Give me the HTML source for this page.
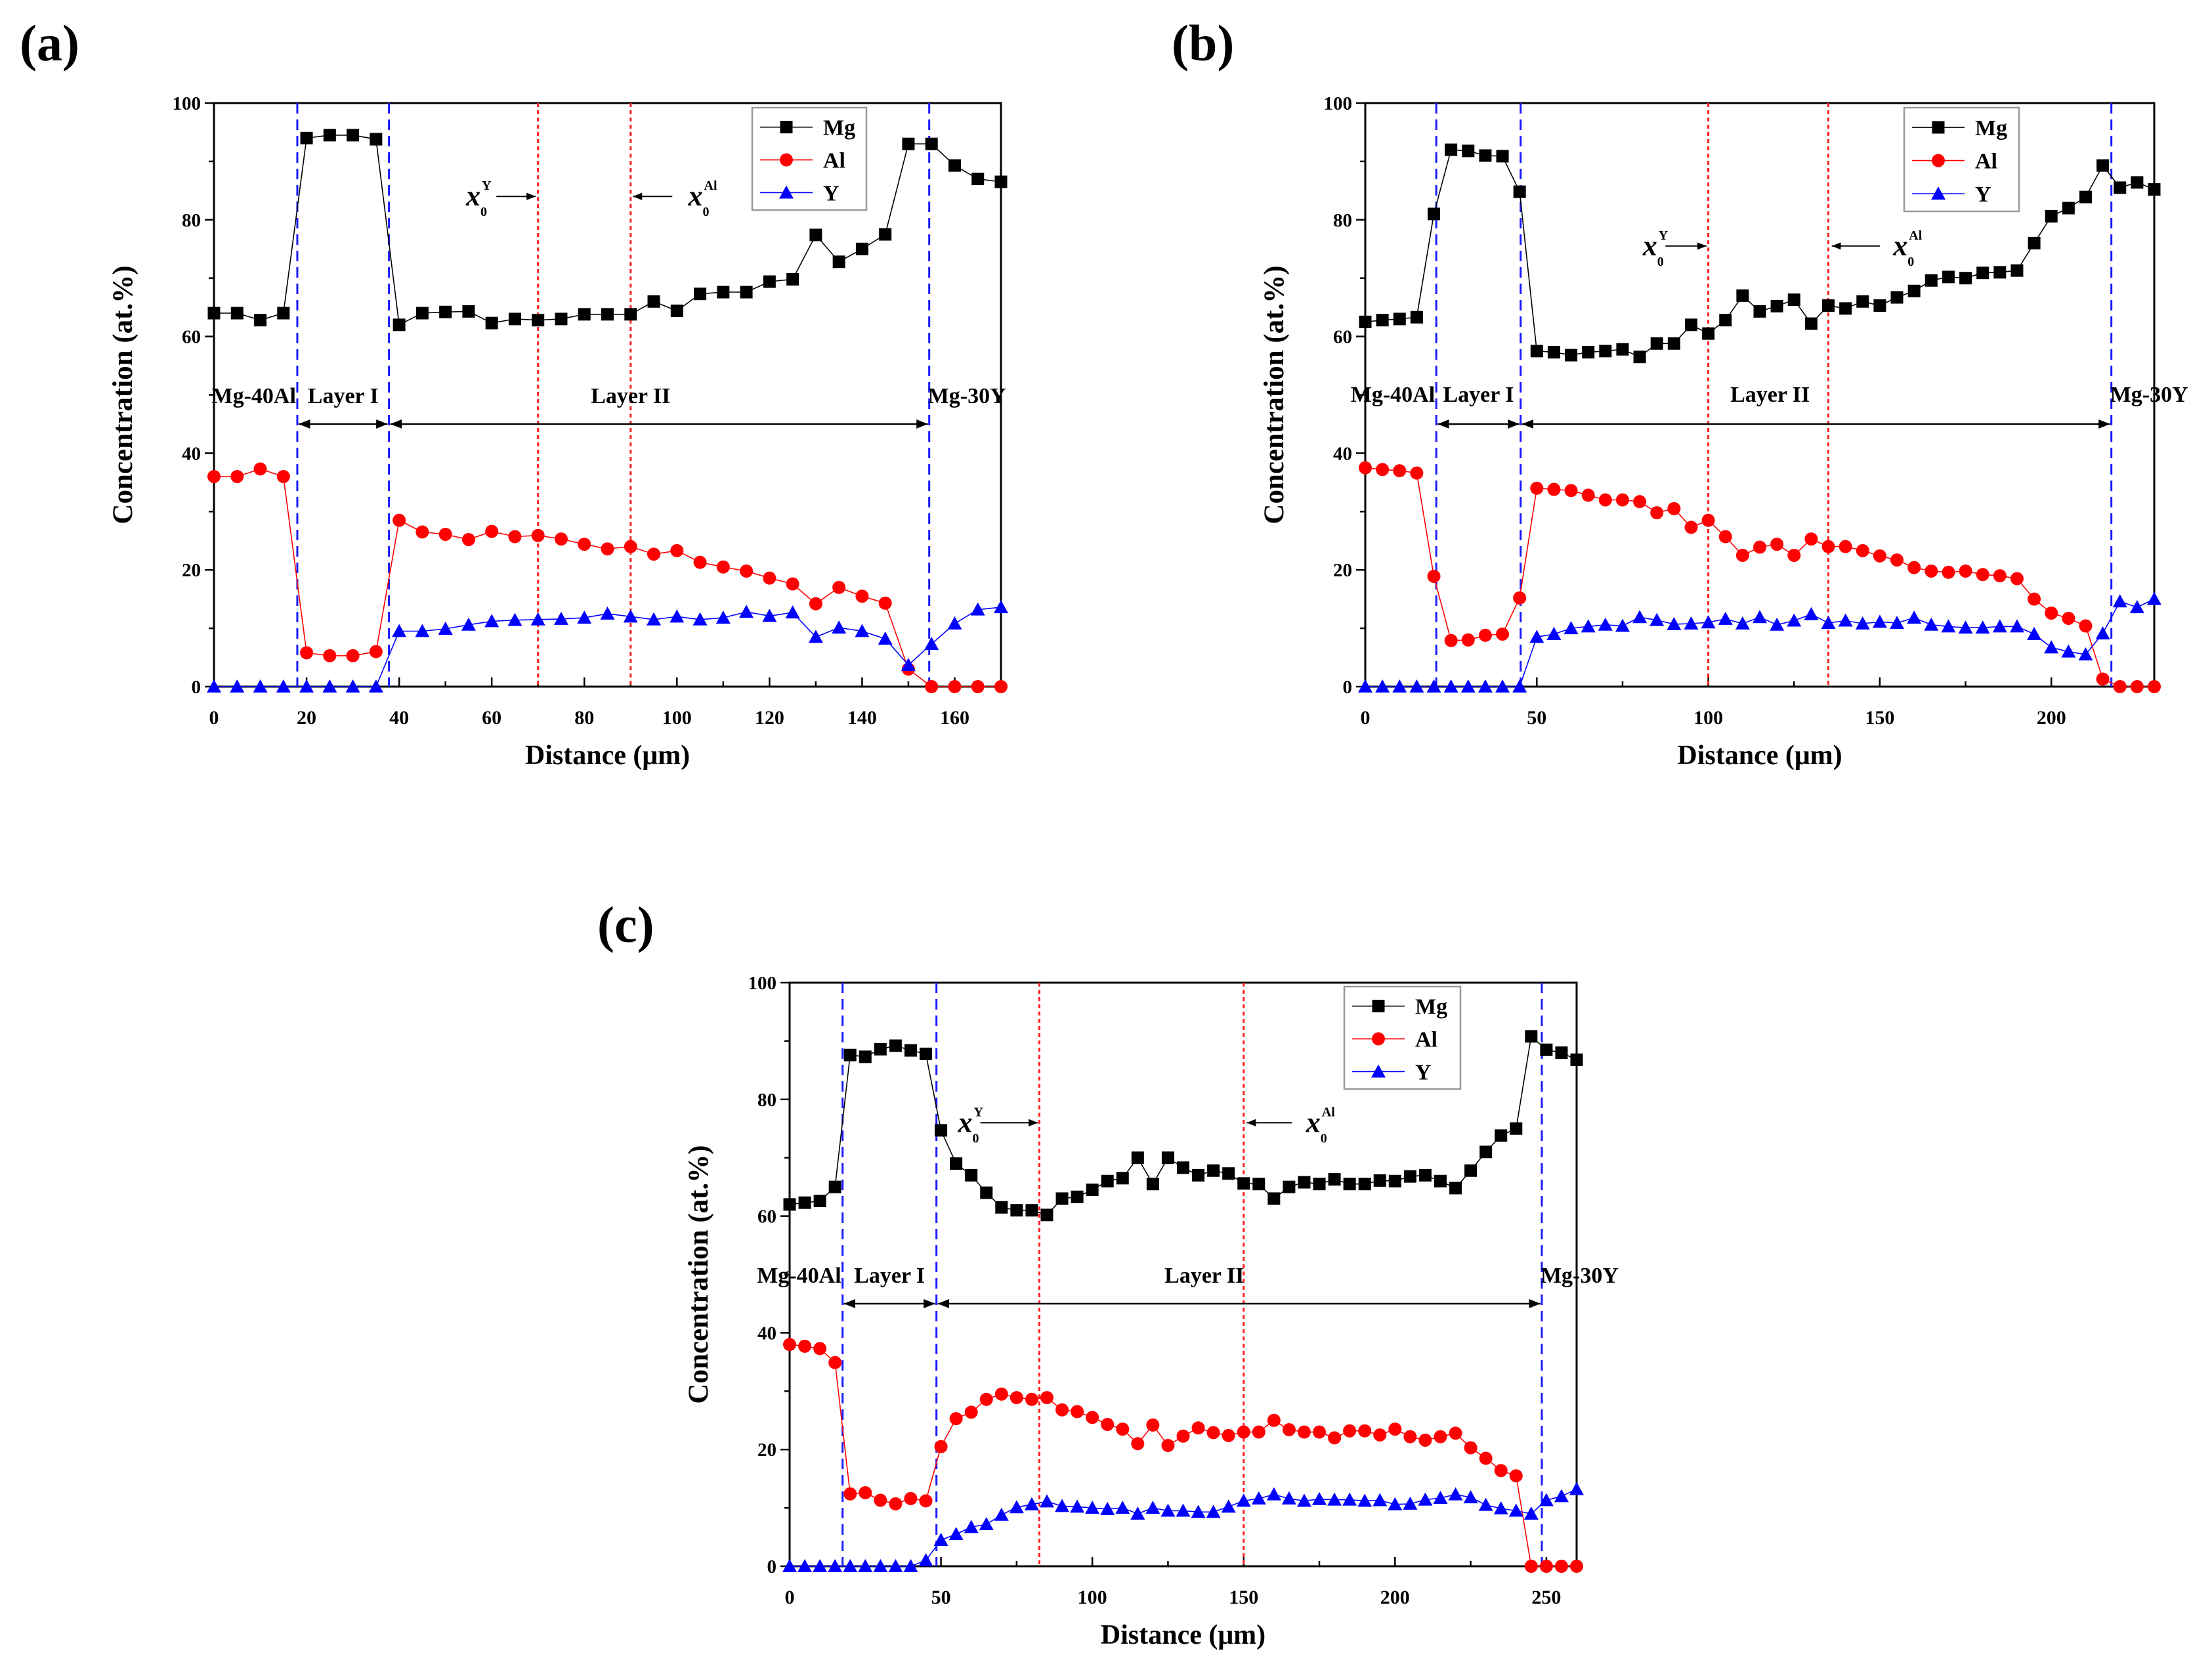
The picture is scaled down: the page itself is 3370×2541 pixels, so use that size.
<!DOCTYPE html>
<html><head><meta charset="utf-8">
<style>
html,body{margin:0;padding:0;background:#fff;}
svg{display:block;font-family:"Liberation Serif",serif;font-weight:bold;}
</style></head>
<body>
<svg id="fig" width="3370" height="2541" viewBox="0 0 3370 2541" xmlns="http://www.w3.org/2000/svg"></svg>
<script>
// ---- Panel (a) data ----
const aMg=[64,64,62.8,64,94,94.5,94.5,93.8,62,64,64.2,64.3,62.3,63,62.8,63,63.8,63.8,63.8,66,64.4,67.3,67.6,67.6,69.4,69.8,77.4,72.8,75,77.5,93,93,89.3,87,86.5];
const aAl=[36,36,37.3,36,5.8,5.3,5.3,6,28.5,26.5,26.1,25.2,26.6,25.7,25.9,25.3,24.4,23.6,24,22.7,23.3,21.3,20.5,19.8,18.6,17.6,14.2,17,15.5,14.3,3,0,0,0,0];
const aY=[0,0,0,0,0,0,0,0,9.5,9.5,9.9,10.6,11.2,11.4,11.5,11.6,11.8,12.5,12,11.5,12,11.5,11.8,12.8,12.1,12.7,8.5,10.1,9.5,8.2,3.7,7.3,10.8,13.2,13.6];
const aXTicks=[0,20,40,60,80,100,120,140,160];
const aBlue=[18,37.8,154.5];
const aRed=[70,90];
// ---- Panel (b) data ----
const bMg=[62.5,62.8,63,63.3,81,92,91.8,91,90.9,84.8,57.5,57.3,56.8,57.3,57.5,57.8,56.5,58.8,58.8,62,60.5,62.8,67,64.3,65.2,66.3,62.2,65.3,64.8,66,65.3,66.7,67.8,69.6,70.2,70,70.9,71,71.3,76,80.6,82,83.9,89.3,85.5,86.4,85.2];
const bAl=[37.5,37.2,37,36.6,18.9,7.9,8,8.8,9,15.2,34,33.8,33.6,32.8,32,32,31.7,29.8,30.5,27.3,28.5,25.7,22.5,23.9,24.4,22.5,25.3,24,24,23.3,22.4,21.7,20.4,19.8,19.6,19.8,19.2,19,18.5,15,12.6,11.7,10.4,1.3,0,0,0];
const bY=[0,0,0,0,0,0,0,0,0,0,8.5,9,10,10.3,10.6,10.4,11.9,11.4,10.7,10.8,11,11.6,10.8,11.9,10.6,11.3,12.4,10.9,11.3,10.8,11.1,10.9,11.8,10.6,10.3,10.1,10.1,10.3,10.3,9,6.7,6,5.5,9.1,14.6,13.6,15];
const bXTicks=[0,50,100,150,200];
const bBlue=[20.7,45.3,217.5];
const bRed=[100,135];
// ---- Panel (c) data ----
const cMg=[62,62.3,62.6,65,87.6,87.3,88.6,89.2,88.4,87.8,74.7,69,67,64,61.5,61,61,60.2,63,63.3,64.5,66,66.5,70,65.5,70,68.3,67,67.8,67.3,65.6,65.5,63,65,65.8,65.5,66.3,65.5,65.5,66.1,66,66.8,67,66,64.8,67.8,71,73.8,75,90.8,88.5,88,86.8];
const cAl=[38,37.7,37.3,34.9,12.4,12.6,11.3,10.7,11.6,11.2,20.5,25.3,26.4,28.6,29.5,28.9,28.6,28.9,26.8,26.5,25.5,24.3,23.5,21,24.2,20.7,22.3,23.7,22.9,22.4,23,23,25,23.4,23,23,22,23.2,23.2,22.5,23.5,22.2,21.6,22.2,22.8,20.3,18.5,16.4,15.5,0,0,0,0];
const cY=[0,0,0,0,0,0,0,0,0,1,4.5,5.5,6.7,7.2,8.8,10.1,10.6,11.1,10.3,10.2,10,9.8,10,9,10,9.5,9.5,9.3,9.3,10.2,11.2,11.6,12.3,11.6,11.2,11.5,11.4,11.4,11.2,11.3,10.6,10.7,11.4,11.7,12.3,11.8,10.5,9.9,9.5,9,11.3,12,13.2];
const cXTicks=[0,50,100,150,200,250];
const cBlue=[17.5,48.5,248.5];
const cRed=[82.5,150];
const yTicks=[0,20,40,60,80,100];

const NS="http://www.w3.org/2000/svg";
const svg=document.getElementById('fig');
function mk(tag,attrs,parent,text){
  const e=document.createElementNS(NS,tag);
  for(const k in attrs)e.setAttribute(k,attrs[k]);
  if(text!==undefined)e.textContent=text;
  (parent||svg).appendChild(e);return e;
}
const defs=mk('defs',{});
defs.innerHTML='<marker id="ah" viewBox="0 0 10 10" refX="10" refY="5" markerWidth="7" markerHeight="7" orient="auto-start-reverse"><path d="M0,1 L10,5 L0,9 z" fill="#000"/></marker>';

function panel(cfg){
  const g=mk('g',{});
  
  
  const L=cfg.L,R=cfg.R,T=cfg.T,B=cfg.B;
  const sx=v=>L+(v/cfg.xmax)*(R-L);
  const sy=v=>B-(v/100)*(B-T);
  const pl=mk('text',{x:cfg.labX,y:cfg.labY,'font-size':78},g,'('+cfg.id+')');
  
  
  const fr=mk('rect',{x:L,y:T,width:R-L,height:B-T,fill:'none',stroke:'#000','stroke-width':3},g);
  
  
  for(let v=0;v<=100;v+=10){
    const maj=v%20===0;
    mk('line',{x1:L-(maj?14:8),x2:L,y1:sy(v),y2:sy(v),stroke:'#000','stroke-width':2.5},g);
  }
  yTicks.forEach(v=>{
    const t=mk('text',{x:L-20,y:sy(v)+10,'font-size':29,'text-anchor':'end'},g,String(v));
    
    
  });
  const step=cfg.xTicks[1]-cfg.xTicks[0];
  for(let v=0;v<=cfg.xmax+0.01;v+=step/2){
    const maj=Math.abs(v/step-Math.round(v/step))<1e-6;
    mk('line',{x1:sx(v),x2:sx(v),y1:B,y2:B-(maj?14:8),stroke:'#000','stroke-width':2.5},g);
  }
  cfg.xTicks.forEach(v=>{
    const t=mk('text',{x:sx(v),y:B+57,'font-size':30,'text-anchor':'middle'},g,String(v));
    
    
  });
  const xt=mk('text',{x:(L+R)/2,y:B+118,'font-size':42,'text-anchor':'middle'},g,'Distance (μm)');
  
  
  const yx=L-125,yy=(T+B)/2;
  const yt=mk('text',{x:yx,y:yy,'font-size':43,'text-anchor':'middle',transform:`rotate(-90 ${yx} ${yy})`},g,'Concentration (at.%)');
  
  
  cfg.blue.forEach(v=>{
    const l=mk('line',{x1:sx(v),x2:sx(v),y1:T,y2:B,stroke:'#1a1aff','stroke-width':3,'stroke-dasharray':'16 9'},g);
    
    
  });
  cfg.red.forEach(v=>{
    const l=mk('line',{x1:sx(v),x2:sx(v),y1:T,y2:B,stroke:'#ff2020','stroke-width':3,'stroke-dasharray':'6 5'},g);
    
    
  });
  const ly=sy(cfg.regionY), ay=sy(45);
  [['Mg-40Al',sx(cfg.blue[0])-2,'end'],['Layer I',(sx(cfg.blue[0])+sx(cfg.blue[1]))/2,'middle'],
   ['Layer II',sx(cfg.layer2X),'middle'],['Mg-30Y',sx(cfg.blue[2])-2,'start']].forEach(a=>{
    const t=mk('text',{x:a[1],y:ly,'font-size':34,'text-anchor':a[2]},g,a[0]);
    
    
  });
  [[cfg.blue[0],cfg.blue[1]],[cfg.blue[1],cfg.blue[2]]].forEach(p=>{
    const l=mk('line',{x1:sx(p[0])+2,x2:sx(p[1])-2,y1:ay,y2:ay,stroke:'#000','stroke-width':2.5,'marker-start':'url(#ah)','marker-end':'url(#ah)'},g);
    
    
  });
  cfg.x0.forEach(a=>{
    const tx=sx(a.tx), ty=sy(a.y);
    const t=mk('text',{x:tx,y:ty+14,'font-size':44,'font-style':'italic','text-anchor':'middle'},g,'x');
    
    
    mk('text',{x:tx+13,y:ty-10,'font-size':20},g,a.sup);
    mk('text',{x:tx+11,y:ty+30,'font-size':20},g,'0');
    const l=mk('line',{x1:sx(a.from),x2:sx(a.to),y1:ty,y2:ty,stroke:'#000','stroke-width':2,'marker-end':'url(#ah)'},g);
    
    
  });
  const series=[['Mg',cfg.mg,'#000','sq'],['Al',cfg.al,'#ff0000','ci'],['Y',cfg.y,'#0000ff','tr']];
  series.forEach(s=>{
    const pts=s[1].map((v,i)=>sx(i*5).toFixed(1)+','+sy(v).toFixed(1)).join(' ');
    const pl=mk('polyline',{points:pts,fill:'none',stroke:s[2],'stroke-width':1.6},g);
    
    
    s[1].forEach((v,i)=>{
      const m=marker(g,s[3],sx(i*5),sy(v),s[2]);
      
      
    });
  });
  const lg=mk('g',{},g);
  
  
  const LX=cfg.leg[0],LY=cfg.leg[1],LW=cfg.leg[2],LH=cfg.leg[3];
  mk('rect',{x:LX,y:LY,width:LW,height:LH,fill:'#fff',stroke:'#999','stroke-width':2.5},lg);
  series.forEach((s,i)=>{
    const yy=LY+LH*(0.19+0.32*i);
    mk('line',{x1:LX+12,x2:LX+92,y1:yy,y2:yy,stroke:s[2],'stroke-width':1.6},lg);
    marker(lg,s[3],LX+52,yy,s[2]);
    const t=mk('text',{x:LX+108,y:yy+12,'font-size':34},lg,s[0]);
    
    
  });
}
function marker(g,type,x,y,c){
  if(type==='sq')return mk('rect',{x:x-9.5,y:y-9.5,width:19,height:19,fill:c},g);
  if(type==='ci')return mk('circle',{cx:x,cy:y,r:10,fill:c},g);
  return mk('polygon',{points:`${x},${y-11} ${x-11},${y+9} ${x+11},${y+9}`,fill:c},g);
}

panel({id:'a',L:326,R:1525,T:157,B:1046,xmax:170,mg:aMg,al:aAl,y:aY,xTicks:aXTicks,blue:aBlue,red:aRed,
  labX:30,labY:92,regionY:48.6,layer2X:90,leg:[1146,164,174,156],
  x0:[{tx:56,y:84,sup:'Y',from:61,to:69.5},{tx:104,y:84,sup:'Al',from:99,to:90.5}]});
panel({id:'b',L:2080,R:3282,T:157,B:1046,xmax:230,mg:bMg,al:bAl,y:bY,xTicks:bXTicks,blue:bBlue,red:bRed,
  labX:1785,labY:92,regionY:48.8,layer2X:118,leg:[2901,164,175,158],
  x0:[{tx:83,y:75.5,sup:'Y',from:87.5,to:99.5},{tx:156,y:75.5,sup:'Al',from:150,to:136}]});
panel({id:'c',L:1203,R:2402,T:1497,B:2386,xmax:260,mg:cMg,al:cAl,y:cY,xTicks:cXTicks,blue:cBlue,red:cRed,
  labX:910,labY:1435,regionY:48.6,layer2X:137,leg:[2048,1503,177,156],
  x0:[{tx:58,y:76,sup:'Y',from:63,to:82},{tx:173,y:76,sup:'Al',from:166,to:151}]});
</script>
</body></html>
